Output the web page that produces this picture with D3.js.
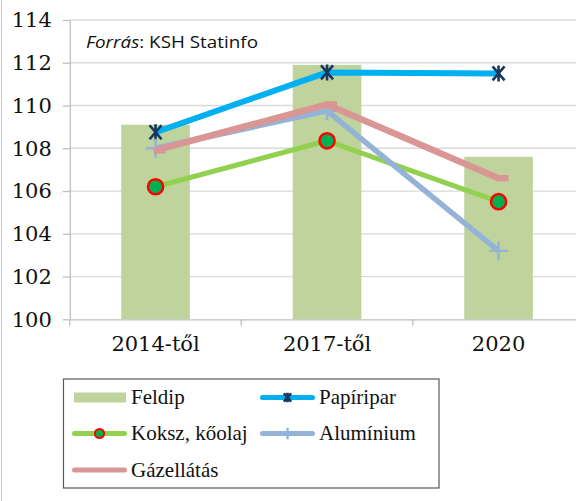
<!DOCTYPE html>
<html>
<head>
<meta charset="utf-8">
<script src="https://cdn.jsdelivr.net/npm/d3@7"></script>
<style>
  html, body { margin: 0; padding: 0; background: #ffffff; }
  svg { display: block; }
</style>
</head>
<body>
<svg id="chart" width="576" height="501"></svg>
<script>
// ---- data ----
const categories = ["2014-től", "2017-től", "2020"];
const feldip     = [109.1, 111.9, 107.6];
const papiripar  = [108.75, 111.55, 111.5];
const koksz      = [106.2, 108.35, 105.5];
const aluminium  = [108.0, 109.75, 103.2];
const gazellatas = [107.9, 110.05, 106.6];
const yTicks = [100, 102, 104, 106, 108, 110, 112, 114];
const seriesNames = ["Feldip", "Papíripar", "Koksz, kőolaj", "Alumínium", "Gázellátás"];
const sourceLabel = ["Forrás", ": KSH Statinfo"];

// ---- styles ----
const C = {
  bar: "#bfd39c",
  pap: "#00b0f0", papMarker: "#17375e",
  kok: "#92d050", kokFill: "#00b050", kokStroke: "#ff0000",
  alu: "#95b3d7",
  gaz: "#d99694",
  grid: "#d9d9d9", axis: "#bfbfbf", text: "#111111"
};
const serif = "'DejaVu Serif', serif";
const legendFont = "'Liberation Serif', 'Times New Roman', serif";

const svg = d3.select("#chart");

// outer frame (left edge only visible)
svg.append("line").attr("x1", 1.5).attr("x2", 1.5).attr("y1", 0).attr("y2", 501)
  .attr("stroke", "#c8c8c8").attr("stroke-width", 1);

const x = d3.scaleBand().domain(categories).range([69.8, 584.3]).padding(0);
const y = d3.scaleLinear().domain([100, 114]).range([319.3, 20]);
const cx = c => x(c) + x.bandwidth() / 2;

// gridlines
svg.append("g").selectAll("line").data(yTicks.filter(t => t !== 100)).join("line")
  .attr("x1", x.range()[0]).attr("x2", x.range()[1])
  .attr("y1", d => y(d)).attr("y2", d => y(d))
  .attr("stroke", C.grid).attr("stroke-width", 1.3);

// bars
const bw = x.bandwidth() * 0.4;
svg.append("g").selectAll("rect").data(categories).join("rect")
  .attr("x", d => cx(d) - bw / 2)
  .attr("width", bw)
  .attr("y", (d, i) => y(feldip[i]))
  .attr("height", (d, i) => y(100) - y(feldip[i]))
  .attr("fill", C.bar);

// y axis
const yAxis = svg.append("g").attr("transform", `translate(${x.range()[0]},0)`)
  .call(d3.axisLeft(y).tickValues(yTicks).tickSize(7).tickSizeOuter(0).tickPadding(11)
    .tickFormat(d3.format("d")));
yAxis.select(".domain").attr("stroke", C.axis).attr("stroke-width", 1.3);
yAxis.selectAll(".tick line").attr("stroke", C.axis).attr("stroke-width", 1.3);
yAxis.selectAll(".tick text").attr("font-family", serif).attr("font-size", 21).attr("fill", C.text);

// x axis
const xAxis = svg.append("g").attr("transform", `translate(0,${y(100)})`)
  .call(d3.axisBottom(x).tickSize(0).tickPadding(17).tickSizeOuter(0));
xAxis.select(".domain").attr("stroke", C.axis).attr("stroke-width", 1.3);
xAxis.selectAll(".tick text").attr("font-family", serif).attr("font-size", 21).attr("fill", C.text);
// boundary ticks
const bounds = categories.map(c => x(c)).concat([x.range()[1]]);
xAxis.append("g").selectAll("line").data(bounds).join("line")
  .attr("x1", d => d).attr("x2", d => d).attr("y1", 0).attr("y2", 6.5)
  .attr("stroke", C.axis).attr("stroke-width", 1.3);

// ---- marker painters ----
function asterisk(g, px, py, s) {
  const p = d3.path();
  p.moveTo(px - 6 * s, py - 7 * s); p.lineTo(px + 6 * s, py + 7 * s);
  p.moveTo(px - 6 * s, py + 7 * s); p.lineTo(px + 6 * s, py - 7 * s);
  p.moveTo(px, py - 8 * s); p.lineTo(px, py + 8 * s);
  g.append("path").attr("d", p.toString()).attr("stroke", C.papMarker)
    .attr("stroke-width", 2.6).attr("fill", "none");
}
function plus(g, px, py, s) {
  const p = d3.path();
  p.moveTo(px - 9.5 * s, py); p.lineTo(px + 9.5 * s, py);
  p.moveTo(px, py - 9.5 * s); p.lineTo(px, py + 9.5 * s);
  g.append("path").attr("d", p.toString()).attr("stroke", C.alu)
    .attr("stroke-width", 2.4).attr("fill", "none");
}
function circle(g, px, py, r, sw) {
  g.append("circle").attr("cx", px).attr("cy", py).attr("r", r)
    .attr("fill", C.kokFill).attr("stroke", C.kokStroke).attr("stroke-width", sw);
}
function dash(g, px, py) {
  g.append("line").attr("x1", px - 2).attr("x2", px + 10).attr("y1", py).attr("y2", py)
    .attr("stroke", C.gaz).attr("stroke-width", 6.5);
}

const lineGen = d3.line().x(d => cx(d.c)).y(d => y(d.v));
const pts = arr => categories.map((c, i) => ({ c, v: arr[i] }));

const lines = svg.append("g");
// Papíripar
lines.append("path").datum(pts(papiripar)).attr("d", lineGen)
  .attr("fill", "none").attr("stroke", C.pap).attr("stroke-width", 6).attr("stroke-linejoin", "round");
pts(papiripar).forEach(d => asterisk(lines, cx(d.c), y(d.v), 1));
// Koksz, kőolaj
lines.append("path").datum(pts(koksz)).attr("d", lineGen)
  .attr("fill", "none").attr("stroke", C.kok).attr("stroke-width", 5).attr("stroke-linejoin", "round");
pts(koksz).forEach(d => circle(lines, cx(d.c), y(d.v), 7.6, 2.5));
// Alumínium
lines.append("path").datum(pts(aluminium)).attr("d", lineGen)
  .attr("fill", "none").attr("stroke", C.alu).attr("stroke-width", 5.5).attr("stroke-linejoin", "round");
pts(aluminium).forEach(d => plus(lines, cx(d.c), y(d.v), 1));
// Gázellátás
lines.append("path").datum(pts(gazellatas)).attr("d", lineGen)
  .attr("fill", "none").attr("stroke", C.gaz).attr("stroke-width", 6.5).attr("stroke-linejoin", "round");
pts(gazellatas).forEach(d => dash(lines, cx(d.c), y(d.v)));

// source label
const src = svg.append("text").attr("font-family", "'Open Sans', sans-serif")
  .attr("font-size", 15.5).attr("fill", C.text);
src.append("tspan").attr("font-style", "italic").text(sourceLabel[0]);
src.append("tspan").text(sourceLabel[1]);
const srcW = src.node().getComputedTextLength();
src.attr("transform", `translate(86,48.3) scale(${172 / srcW},1)`);

// ---- legend ----
const lg = svg.append("g");
lg.append("rect").attr("x", 63.5).attr("y", 379).attr("width", 375.5).attr("height", 109)
  .attr("fill", "#ffffff").attr("stroke", "#595959").attr("stroke-width", 1.2);
const colX = [72, 260];
const rowY = [397.5, 433.5, 470];
// Feldip (0,0), Papíripar (1,0), Koksz (0,1), Alumínium (1,1), Gázellátás (0,2)
const pos = [[0, 0], [1, 0], [0, 1], [1, 1], [0, 2]];
seriesNames.forEach((n, i) => {
  const lx = colX[pos[i][0]], ly = rowY[pos[i][1]];
  const mx = lx + 27.5;
  if (i === 0) {
    lg.append("rect").attr("x", lx + 2).attr("y", ly - 5).attr("width", 52).attr("height", 10).attr("fill", C.bar);
  } else {
    const col = [null, C.pap, C.kok, C.alu, C.gaz][i];
    lg.append("line").attr("x1", lx + 2.5).attr("x2", lx + 52.5).attr("y1", ly).attr("y2", ly)
      .attr("stroke", col).attr("stroke-width", 5).attr("stroke-linecap", "round");
    if (i === 1) asterisk(lg, mx, ly, 0.6);
    if (i === 2) circle(lg, mx, ly, 4.6, 2);
    if (i === 3) plus(lg, mx, ly, 0.6);
  }
  lg.append("text").attr("x", lx + 59).attr("y", ly + 6.5)
    .attr("font-family", legendFont).attr("font-size", 21).attr("fill", C.text).text(n);
});
</script>
</body>
</html>
